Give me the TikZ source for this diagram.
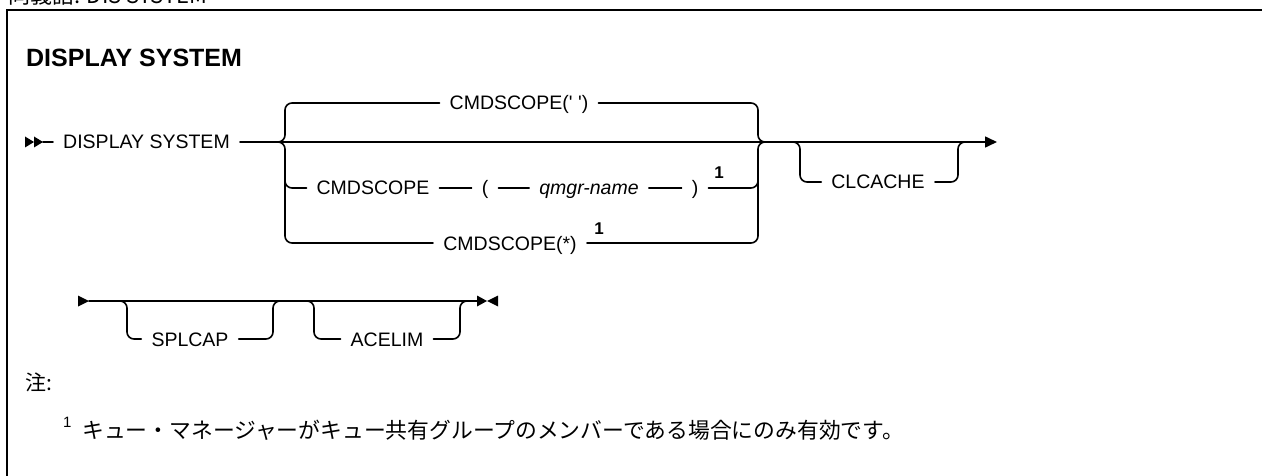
\documentclass[tikz,border=0pt]{standalone}
\usepackage{fontspec}
\setmainfont{Liberation Sans}
\newfontfamily\jpfont{Noto Sans CJK JP}
\usetikzlibrary{arrows.meta}
\newcommand\railfont{\fontsize{19.5pt}{22pt}\selectfont}
\newcommand\titlefont{\fontsize{25pt}{28pt}\selectfont\bfseries}
\tikzset{
  rail/.style={line width=1.6pt, rounded corners=7pt},
  kw/.style={font=\railfont, inner xsep=10pt, inner ysep=0pt, text height=14pt, text depth=0pt},
  supnum/.style={font=\fontsize{17pt}{19pt}\selectfont\bfseries, inner sep=0pt},
  plain/.style={anchor=base west, inner sep=0pt},
}
\begin{document}
\begin{tikzpicture}[x=1pt, y=-1pt, line join=round, line cap=round]
\clip (0,0) rectangle (1262,476);
% frame and headings
\node[plain, font=\jpfont\fontsize{22pt}{26pt}\selectfont] (syn) at (8,4) {同義語: DIS SYSTEM};
\draw[line width=2.5pt, line join=miter, line cap=butt] (7,480) |- (1270,10);
\node[plain, font=\titlefont] (title) at (26,67) {DISPLAY SYSTEM};
% first row
\node[kw] (ds) at (146.5,142) {DISPLAY SYSTEM};
\node[kw] (cs1) at (519,103) {CMDSCOPE(\textquotesingle\ \textquotesingle)};
\node[kw] (cmd) at (373,188) {CMDSCOPE};
\node[kw] (lpar) at (485,188) {(};
\node[kw, font=\railfont\itshape] (qmgr) at (589,188) {qmgr-name};
\node[kw] (rpar) at (695,188) {)};
\node[supnum] (n1) at (719,173) {1};
\node[kw] (cs3) at (510,243) {CMDSCOPE(*)};
\node[supnum] (n2) at (599,229) {1};
\node[kw] (cl) at (878,182) {CLCACHE};
\path (43,142) coordinate (r1s) (997,142) coordinate (r1e) (278,142) coordinate (bl) (766,142) coordinate (br) (792,142) coordinate (c1) (966,142) coordinate (c2);
\foreach \x/\y/\d in {25/142/9,34/142/9,78/301/11,477/301/10,498/301/-11} \fill (\x,\y-5.5) -- (\x+\d,\y) -- (\x,\y+5.5) -- cycle;
\draw[rail] (r1s) -- (ds);
\draw[rail, -{Triangle[length=12pt,width=11pt]}] (ds) -- (r1e);
\draw[rail] (bl) -- ++(7,0) |- (cs1.west);
\draw[rail] (bl) -- ++(7,0) |- (cs3.west);
\draw[rail] ([shift={(7,28)}]bl) |- (cmd.west);
\draw[rail] (cs1.east) -| ([xshift=-8pt]br) -- (br);
\draw[rail] (cs3.east) -| ([xshift=-8pt]br) -- (br);
\draw[rail] (rpar.east) -| ([shift={(-8,28)}]br);
\foreach \a/\b in {cmd/lpar,lpar/qmgr,qmgr/rpar} \draw[rail] (\a) -- (\b);
\draw[rail] (c1) -- ++(8,0) |- (cl.west);
\draw[rail] (cl.east) -| ([xshift=-8pt]c2) -- (c2);
% second row
\node[kw] (sp) at (190,339) {SPLCAP};
\node[kw] (ac) at (387,339) {ACELIM};
\path (89,301) coordinate (r2s) (477,301) coordinate (r2e) (120,301) coordinate (s1) (280,301) coordinate (s2) (307,301) coordinate (a1) (467,301) coordinate (a2);
\draw[rail] (r2s) -- (r2e);
\draw[rail] (s1) -- ++(7,0) |- (sp.west);
\draw[rail] (sp.east) -| ([xshift=-7pt]s2) -- (s2);
\draw[rail] (a1) -- ++(7,0) |- (ac.west);
\draw[rail] (ac.east) -| ([xshift=-7pt]a2) -- (a2);
% notes
\node[plain, font=\jpfont\fontsize{21pt}{25pt}\selectfont] (notes) at (25,390) {注:};
\node[plain, font=\fontsize{15pt}{17pt}\selectfont] (fn1) at (63,427) {1};
\node[plain, font=\jpfont\fontsize{21.8pt}{25pt}\selectfont] (fntext) at (82,438) {キュー・マネージャーがキュー共有グループのメンバーである場合にのみ有効です。};
\end{tikzpicture}
\end{document}
